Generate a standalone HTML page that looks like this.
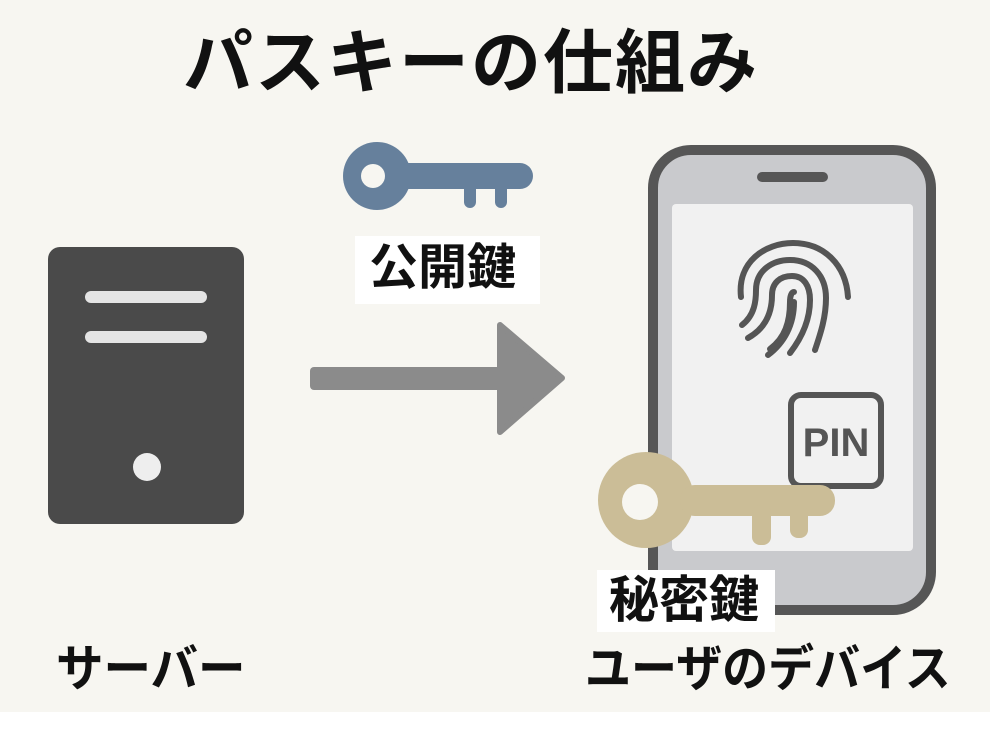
<!DOCTYPE html>
<html><head><meta charset="utf-8"><style>
html,body{margin:0;padding:0;}
body{width:990px;height:730px;background:#fff;position:relative;overflow:hidden;font-family:"Liberation Sans","Noto Sans CJK JP",sans-serif;}
.bg{position:absolute;left:0;top:0;width:990px;height:712px;background:#f7f6f1;}
.t{position:absolute;font-weight:bold;color:#111;white-space:nowrap;line-height:1;}
.lab{position:absolute;background:#fff;}
</style></head><body>
<div class="bg"></div>
<div class="t" style="left:183px;top:28px;font-size:70px;letter-spacing:2px;">パスキーの仕組み</div>
<svg width="990" height="730" style="position:absolute;left:0;top:0">
<g fill="#66809c">
<circle cx="377" cy="176" r="34"/>
<rect x="395" y="163" width="138" height="26" rx="13"/>
<rect x="464" y="180" width="12" height="28" rx="6"/>
<rect x="495" y="180" width="12" height="28" rx="6"/>
</g>
<circle cx="373" cy="176" r="12" fill="#f7f6f1"/>
<rect x="48" y="247" width="196" height="277" rx="12" fill="#4a4a4a"/>
<rect x="85" y="291" width="122" height="12" rx="6" fill="#e4e4e4"/>
<rect x="85" y="331" width="122" height="12" rx="6" fill="#e4e4e4"/>
<circle cx="147" cy="467" r="14" fill="#eee"/>
<rect x="310" y="367" width="200" height="23" rx="4" fill="#8b8b8b"/>
<path d="M500 325 L562 378 L500 432 Z" fill="#8b8b8b" stroke="#8b8b8b" stroke-width="6" stroke-linejoin="round"/>
<rect x="653" y="150" width="278" height="460" rx="38" fill="#c9cacd" stroke="#565656" stroke-width="10"/>
<rect x="672" y="204" width="241" height="347" rx="4" fill="#f1f1f1"/>
<rect x="757" y="172" width="71" height="10" rx="5" fill="#565656"/>
<g fill="none" stroke="#555" stroke-width="6" stroke-linecap="round">
<path d="M741 297 C737 262 765 243 793 243 C824 243 846 265 848 297"/>
<path d="M742 325 C755 315 756 300 756 290 C756 270 773 260 790 260 C812 260 826 276 826 298 C826 318 820 335 815 350"/>
<path d="M748 338 C766 328 772 312 772 295 C772 283 780 276 792 276 C804 276 810 286 810 300 C810 322 800 340 790 353"/>
<path d="M770 349 C785 338 790 322 790 302 C790 295 792 292 794 292 M794 302 C794 325 784 343 768 355"/>
</g>
<rect x="791" y="395" width="90" height="91" rx="10" fill="#f1f1f1" stroke="#555" stroke-width="6"/>
<text x="836" y="456" font-family="Liberation Sans, sans-serif" font-size="40" font-weight="bold" fill="#555" text-anchor="middle">PIN</text>
<g fill="#cbbd97">
<circle cx="646" cy="500" r="48"/>
<rect x="680" y="485" width="155" height="31" rx="15"/>
<rect x="752" y="505" width="19" height="40" rx="8"/>
<rect x="790" y="505" width="18" height="33" rx="8"/>
</g>
<circle cx="640" cy="502" r="18" fill="#f7f6f1"/>
</svg>
<div class="lab" style="left:355px;top:236px;width:185px;height:68px;"></div>
<div class="t" style="left:369px;top:244px;font-size:49px;">公開鍵</div>
<div class="lab" style="left:597px;top:570px;width:178px;height:62px;"></div>
<div class="t" style="left:609px;top:575px;font-size:50px;">秘密鍵</div>
<div class="t" style="left:56px;top:644px;font-size:50px;transform:scaleX(0.95);transform-origin:left top;">サーバー</div>
<div class="t" style="left:585px;top:644px;font-size:50px;transform:scaleX(0.92);transform-origin:left top;">ユーザのデバイス</div>
</body></html>
